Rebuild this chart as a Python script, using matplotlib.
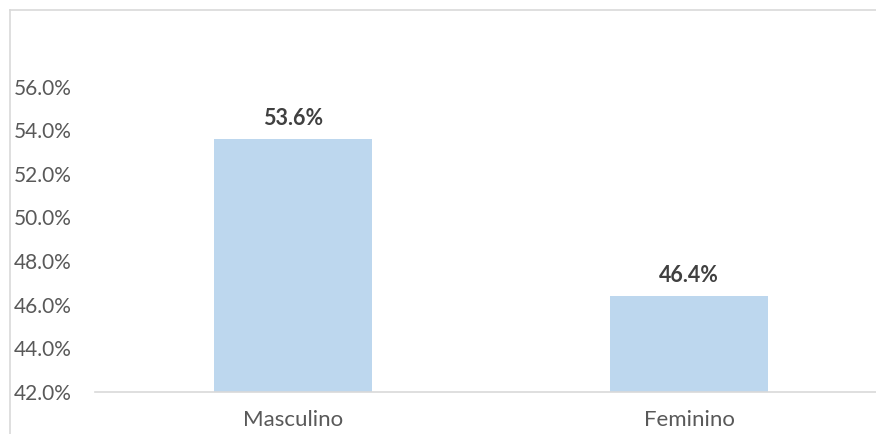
import numpy as np
import matplotlib.pyplot as plt
from matplotlib.lines import Line2D
from matplotlib.ticker import PercentFormatter

# Datos
categorias = ["Masculino", "Feminino"]
valores = [0.536, 0.464]
ticks_y = [0.42, 0.44, 0.46, 0.48, 0.50, 0.52, 0.54, 0.56]

plt.rcParams['font.family'] = ['Lato', 'DejaVu Sans']

W, H = 876, 434
fig = plt.figure(figsize=(W / 100, H / 100), dpi=100)
ax = fig.add_axes([95 / W, 42 / H, (887 - 95) / W, (392 - 43) / H])

x = np.arange(len(categorias))
ax.bar(x, valores, width=0.4, color="#BDD7EE")

for xi, v in zip(x, valores):
    ax.annotate(f"{v * 100:.1f}%", (xi, v), xytext=(0, 7), textcoords="offset points",
                ha="center", va="bottom", fontsize=15.5, fontweight="bold", color="#404040")

ax.set_xlim(-0.5, len(categorias) - 0.5)
ax.set_ylim(0.42, 0.58)
ax.set_yticks(ticks_y)
ax.yaxis.set_major_formatter(PercentFormatter(1.0, decimals=1))
ax.set_xticks(x)
ax.set_xticklabels(categorias)

ax.tick_params(axis="y", length=0, pad=17, labelsize=15, labelcolor="#595959")
ax.tick_params(axis="x", length=0, pad=13, labelsize=16, labelcolor="#595959")

for s in ["top", "right", "left"]:
    ax.spines[s].set_visible(False)
ax.spines["bottom"].set_color("#D9D9D9")
ax.spines["bottom"].set_linewidth(1.2)

# Borde del grafico
fig.add_artist(Line2D([9.5 / W, 9.5 / W], [0, 1 - 9.5 / H], color="#D9D9D9", lw=1.2))
fig.add_artist(Line2D([9.5 / W, 1], [1 - 9.5 / H, 1 - 9.5 / H], color="#D9D9D9", lw=1.2))

fig.savefig("out.png", dpi=100)
